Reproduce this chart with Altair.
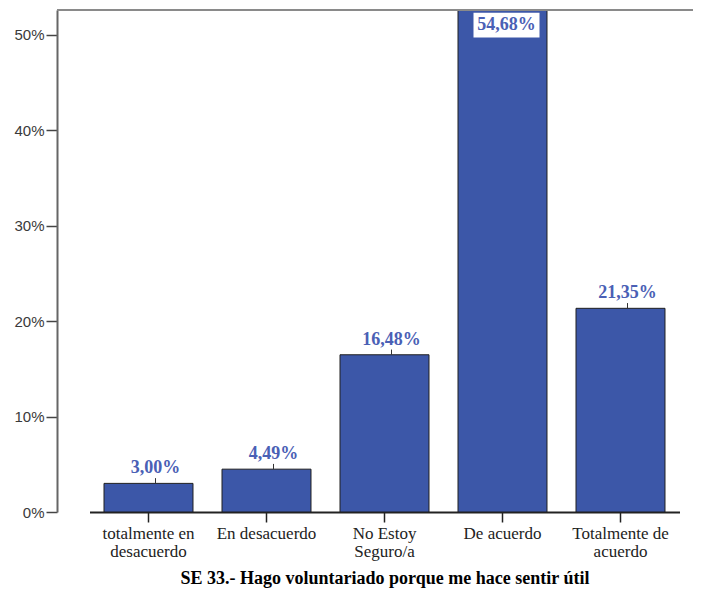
import altair as alt
import pandas as pd

categories = ["totalmente en\ndesacuerdo", "En desacuerdo", "No Estoy\nSeguro/a",
              "De acuerdo", "Totalmente de\nacuerdo"]
values = [3.00, 4.49, 16.48, 54.68, 21.35]
labels = ["3,00%", "4,49%", "16,48%", "54,68%", "21,35%"]
y_ticks = [0, 10, 20, 30, 40, 50]
y_max = 52.62
title = "SE 33.- Hago voluntariado porque me hace sentir útil"

df = pd.DataFrame({"cat": categories, "value": values, "label": labels})

W, H = 636, 502
BAR = "#3c57a8"
LBL = "#4a60b5"

x = alt.X("cat:N", sort=categories,
          scale=alt.Scale(range=[32.5, 622.5], paddingInner=0.246, paddingOuter=0.123),
          axis=alt.Axis(title=title, labelAngle=0,
                        labelExpr="split(datum.label, '\\n')"))
y = alt.Y("value:Q", scale=alt.Scale(domain=[0, y_max], nice=False, zero=True),
          axis=alt.Axis(values=y_ticks, labelExpr="datum.value + '%'", title=None, grid=False))

base = alt.Chart(df)

bars = base.mark_bar(clip=True, fill=BAR, stroke="#1f1f1f", strokeWidth=1).encode(x=x, y=y)

normal = base.transform_filter(f"datum.value <= {y_max}")
text_normal = normal.mark_text(baseline="alphabetic", dy=-10, dx=7, font="Liberation Serif",
                               fontWeight="bold", fontSize=18, color=LBL).encode(
    x=x, y=y, text="label:N")
leaders = normal.transform_calculate(ytop="datum.value + 0.55").mark_rule(
    color="#333", strokeWidth=1, xOffset=7).encode(x=x, y=y, y2="ytop:Q")

clipped = base.transform_filter(f"datum.value > {y_max}").transform_calculate(
    value=f"{y_max}")
box = clipped.mark_point(shape="M-1,-0.375L1,-0.375L1,0.375L-1,0.375Z", size=4356,
                         filled=True, fill="white", opacity=1, strokeWidth=0,
                         yOffset=15, xOffset=4).encode(x=x, y=y)
text_clip = clipped.mark_text(baseline="middle", yOffset=15, xOffset=4, font="Liberation Serif",
                              fontWeight="bold", fontSize=18, color=LBL).encode(
    x=x, y=y, text="label:N")

top_border = base.mark_rule(color="#8a8a8a", strokeWidth=2).encode(
    x=alt.value(0), x2=alt.value(W), y=alt.value(0))

chart = alt.layer(bars, leaders, text_normal, box, text_clip, top_border).properties(
    width=W, height=H,
    autosize=alt.AutoSizeParams(type="none"),
    padding={"left": 49, "top": 2, "right": 0, "bottom": 80},
).configure_view(stroke=None).configure_axisY(
    domainColor="#666", domainWidth=2, tickColor="#444", tickSize=11, tickWidth=1.5,
    labelFont="Liberation Sans", labelFontSize=15, labelColor="#3a3a3a", labelPadding=2,
).configure_axisX(
    domainColor="#222", domainWidth=2, tickColor="#222", tickSize=10, tickWidth=1.5,
    labelFont="Liberation Serif", labelFontSize=17, labelColor="#222",
    labelLineHeight=18, labelPadding=3,
    titleFont="Liberation Serif", titleFontWeight="bold", titleFontSize=18,
    titleColor="#000", titlePadding=10, titleX=327.5,
)

chart.save("out.html", embed_options={"renderer": "svg", "actions": False})
